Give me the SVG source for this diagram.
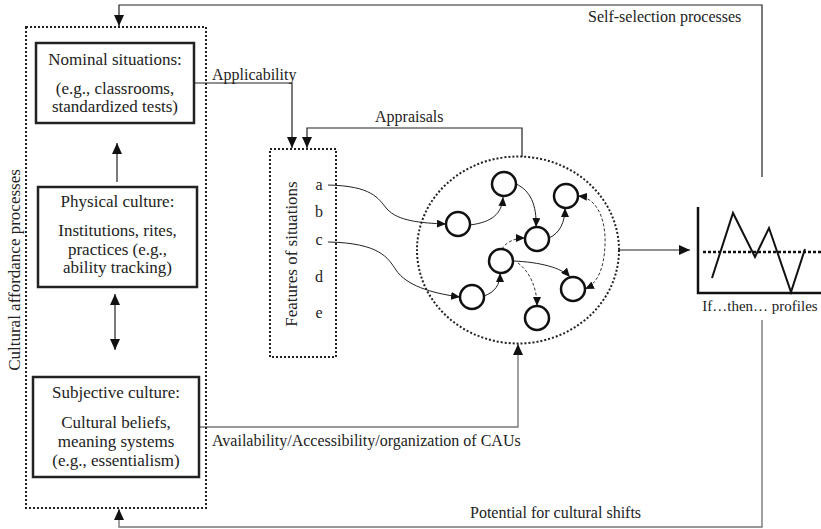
<svg xmlns="http://www.w3.org/2000/svg" width="821" height="529" viewBox="0 0 821 529">
<style>
text{font-family:"Liberation Serif","Times New Roman",serif;font-size:16px;fill:#222}
.c{text-anchor:middle}
.bt{font-size:17px}
.box{fill:none;stroke:#222;stroke-width:2.5}
.dot{fill:none;stroke:#222;stroke-width:2;stroke-dasharray:2 2}
.ln{fill:none;stroke:#222;stroke-width:1.2}
.gr{fill:none;stroke:#777;stroke-width:1.4}
.nd{fill:#fff;stroke:#111;stroke-width:2.5}
.ia{fill:none;stroke:#222;stroke-width:1}
.da{fill:none;stroke:#333;stroke-width:1;stroke-dasharray:3 2}
</style>
<defs>
<marker id="ah" markerUnits="userSpaceOnUse" markerWidth="12" markerHeight="10" refX="11" refY="5" orient="auto-start-reverse"><path d="M0,0 L11,5 L0,10 z" fill="#111"/></marker>
<marker id="as" markerUnits="userSpaceOnUse" markerWidth="9" markerHeight="8" refX="9" refY="4" orient="auto-start-reverse"><path d="M0,0 L9,4 L0,8 z" fill="#111"/></marker>
</defs>

<g id="connectors">
<path class="ln" d="M762,177 V5 H119 V26" marker-end="url(#ah)"/>
<path class="ln" d="M194,83 H292 V148" marker-end="url(#ah)"/>
<path class="ln" d="M522,157 V128 H307 V148" marker-end="url(#ah)"/>
<path class="gr" d="M199,427 H518 V344" marker-end="url(#ah)"/>
<path class="gr" d="M762,320 V527 H119 V509" marker-end="url(#ah)"/>
<path class="ln" d="M619,250 H690" marker-end="url(#ah)"/>
<path class="ln" d="M117,182 V143" marker-end="url(#ah)"/>
<path class="ln" d="M115,294 V350" marker-start="url(#ah)" marker-end="url(#ah)"/>
<path class="ia" d="M328,185 C372,186 378,198 387,209 C398,221 420,223 446,224" marker-end="url(#as)"/>
<path class="ia" d="M328,242 C380,243 388,258 396,270 C406,285 430,293 460,297" marker-end="url(#as)"/>
<path class="ia" d="M470,225 C492,222 502,214 503,197" marker-end="url(#as)"/>
<path class="ia" d="M516,184 C530,190 537,205 536,227" marker-end="url(#as)"/>
<path class="ia" d="M549,238 C560,233 565,222 565,208" marker-end="url(#as)"/>
<path class="da" d="M502,249 C506,242 515,238 525,238" marker-end="url(#as)"/>
<path class="ia" d="M484,296 C495,292 500,285 500,273" marker-end="url(#as)"/>
<path class="ia" d="M513,261 C540,262 562,268 570,277" marker-end="url(#as)"/>
<path class="da" d="M518,263 C530,272 537,288 537,306" marker-end="url(#as)"/>
<path class="da" d="M578,196 C600,198 606,225 605,245 C604,268 598,283 585,289" marker-start="url(#as)" marker-end="url(#as)"/>
</g>

<g id="culture-frame">
<rect class="dot" x="26" y="27" width="180" height="481"/>
<text transform="translate(20,270) rotate(-90)" class="c" style="font-size:17px">Cultural affordance processes</text>
</g>

<g id="nominal">
<rect class="box" x="36" y="43" width="158" height="80"/>
<text class="c bt" x="115" y="65">Nominal situations:</text>
<text class="c bt" x="115" y="94">(e.g., classrooms,</text>
<text class="c bt" x="115" y="112">standardized tests)</text>
</g>

<g id="physical">
<rect class="box" x="38" y="187" width="159" height="100"/>
<text class="c bt" x="117.5" y="207">Physical culture:</text>
<text class="c bt" x="117.5" y="236">Institutions, rites,</text>
<text class="c bt" x="117.5" y="254.5">practices (e.g.,</text>
<text class="c bt" x="117.5" y="273">ability tracking)</text>
</g>

<g id="subjective">
<rect class="box" x="33" y="377" width="166" height="100"/>
<text class="c bt" x="116" y="398">Subjective culture:</text>
<text class="c bt" x="116" y="428">Cultural beliefs,</text>
<text class="c bt" x="116" y="447">meaning systems</text>
<text class="c bt" x="116" y="466">(e.g., essentialism)</text>
</g>

<g id="features">
<rect class="dot" x="270" y="149" width="66" height="208"/>
<text transform="translate(297,254) rotate(-90)" class="c" style="font-size:17px">Features of situations</text>
<text class="c" x="319" y="190">a</text>
<text class="c" x="319" y="217">b</text>
<text class="c" x="319" y="245">c</text>
<text class="c" x="319" y="282">d</text>
<text class="c" x="319" y="318">e</text>
</g>

<g id="cau-network">
<ellipse class="dot" cx="518" cy="250" rx="101" ry="93.5"/>
<circle class="nd" cx="458" cy="224" r="12"/>
<circle class="nd" cx="504" cy="184" r="12"/>
<circle class="nd" cx="537" cy="239" r="12"/>
<circle class="nd" cx="566" cy="196" r="12"/>
<circle class="nd" cx="501" cy="261" r="12"/>
<circle class="nd" cx="472" cy="297" r="12"/>
<circle class="nd" cx="573" cy="289" r="12"/>
<circle class="nd" cx="537" cy="318" r="12"/>
</g>

<g id="profiles">
<path d="M698,207 V293 H821" fill="none" stroke="#111" stroke-width="2.5"/>
<path d="M703,252 H821" fill="none" stroke="#111" stroke-width="2.5" stroke-dasharray="3 2"/>
<polyline points="712,278 733,213 755,257 769,228 791,292 805,249" fill="none" stroke="#111" stroke-width="2"/>
<text class="c" x="760" y="311" style="font-size:15px">If…then… profiles</text>
</g>

<g id="labels">
<text x="212" y="80">Applicability</text>
<text x="375" y="122">Appraisals</text>
<text x="588" y="22">Self-selection processes</text>
<text x="212" y="446">Availability/Accessibility/organization of CAUs</text>
<text x="470" y="518">Potential for cultural shifts</text>
</g>
</svg>
